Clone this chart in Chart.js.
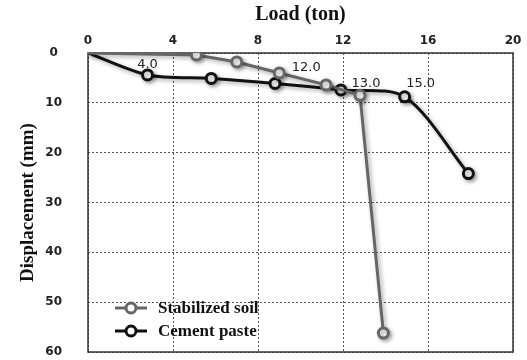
<!DOCTYPE html>
<html>
<head>
<meta charset="utf-8">
<script src="https://cdn.jsdelivr.net/npm/chart.js@4.4.1/dist/chart.umd.min.js"></script>
<style>
  html, body { margin: 0; padding: 0; background: #fff; }
  #wrap { width: 527px; height: 360px; }
</style>
</head>
<body>
<div id="wrap"><canvas id="chart"></canvas></div>
<script>
// Valeurs
const soilLoad  = [0, 5.1, 7.0, 9.0, 11.2, 12.8, 13.9];
const soilDisp  = [0, 0.4, 1.8, 4.0, 6.4, 8.5, 56.2];
const soilNotes = ['', '', '', '12.0', '', '13.0', ''];

const pasteLoad  = [0, 2.8, 5.8, 8.8, 11.9, 14.9, 17.9];
const pasteDisp  = [0, 4.4, 5.1, 6.1, 7.4, 8.8, 24.2];
const pasteNotes = ['', '4.0', '', '', '', '15.0', ''];

const loadTicks = [0, 4, 8, 12, 16, 20];
const dispTicks = [0, 10, 20, 30, 40, 50, 60];

function toPoints(xs, ys) {
    return xs.map((x, i) => ({ x: x, y: ys[i] }));
}

// Décalage des étiquettes par rapport au point (px)
const noteOffsets = {
    '4.0': [0, -10],
    '12.0': [27, -5],
    '13.0': [6, -12],
    '15.0': [16, -13]
};

// Ombre portée sur les courbes
const shadowPlugin = {
    id: 'shadow',
    beforeDatasetDraw(chart) {
        const ctx = chart.ctx;
        ctx.save();
        ctx.shadowColor = 'rgba(0,0,0,0.35)';
        ctx.shadowBlur = 4;
        ctx.shadowOffsetX = 2;
        ctx.shadowOffsetY = 2;
    },
    afterDatasetDraw(chart) {
        chart.ctx.restore();
    }
};

// Cadre, étiquettes et légende
const decorPlugin = {
    id: 'decor',
    beforeDatasetsDraw(chart) {
        const ctx = chart.ctx;
        const a = chart.chartArea;
        ctx.save();
        ctx.strokeStyle = '#333';
        ctx.lineWidth = 1.5;
        ctx.strokeRect(a.left, a.top, a.right - a.left, a.bottom - a.top);
        ctx.restore();
    },
    afterDatasetsDraw(chart) {
        const ctx = chart.ctx;
        ctx.save();
        ctx.font = '13px "DejaVu Sans"';
        ctx.fillStyle = '#222';
        ctx.textAlign = 'center';
        ctx.textBaseline = 'middle';
        chart.data.datasets.forEach((ds, di) => {
            const meta = chart.getDatasetMeta(di);
            ds.notes.forEach((txt, i) => {
                if (!txt) return;
                const p = meta.data[i];
                const off = noteOffsets[txt] || [0, -10];
                ctx.fillText(txt, p.x + off[0], p.y + off[1]);
            });
        });

        // légende
        ctx.font = 'bold 17px "Liberation Serif"';
        ctx.textAlign = 'left';
        chart.data.datasets.forEach((ds, di) => {
            const y = 308 + di * 23;
            ctx.strokeStyle = ds.borderColor;
            ctx.lineWidth = 3;
            ctx.beginPath();
            ctx.moveTo(115, y);
            ctx.lineTo(147, y);
            ctx.stroke();
            ctx.beginPath();
            ctx.arc(131, y, 5, 0, Math.PI * 2);
            ctx.fillStyle = '#fff';
            ctx.fill();
            ctx.stroke();
            ctx.fillStyle = '#111';
            ctx.fillText(ds.label, 158, y + 1);
        });
        ctx.restore();
    }
};

const ctx = document.getElementById('chart').getContext('2d');
new Chart(ctx, {
    type: 'line',
    data: {
        datasets: [
            {
                label: 'Stabilized soil',
                data: toPoints(soilLoad, soilDisp),
                notes: soilNotes,
                borderColor: '#666',
                borderWidth: 3,
                pointBackgroundColor: '#fff',
                pointBorderColor: '#666',
                pointBorderWidth: 3,
                pointRadius: soilLoad.map((v, i) => i === 0 ? 0 : 5),
                tension: 0
            },
            {
                label: 'Cement paste',
                data: toPoints(pasteLoad, pasteDisp),
                notes: pasteNotes,
                borderColor: '#111',
                borderWidth: 3,
                pointBackgroundColor: '#fff',
                pointBorderColor: '#111',
                pointBorderWidth: 3,
                pointRadius: pasteLoad.map((v, i) => i === 0 ? 0 : 5),
                tension: 0.3
            }
        ]
    },
    options: {
        responsive: true,
        maintainAspectRatio: false,
        animation: false,
        layout: { padding: { left: 0, right: 14, top: 0, bottom: 8 } },
        plugins: {
            legend: { display: false },
            tooltip: { enabled: false }
        },
        scales: {
            x: {
                type: 'linear',
                position: 'top',
                min: 0,
                max: 20,
                afterBuildTicks: s => { s.ticks = loadTicks.map(v => ({ value: v })); },
                afterFit: s => { s.height = 53; s.paddingLeft = 0; s.paddingRight = 0; },
                ticks: {
                    color: '#222',
                    font: { family: 'DejaVu Sans', size: 12, weight: 'bold' },
                    padding: 5,
                    maxRotation: 0,
                    autoSkip: false
                },
                grid: { color: '#555', lineWidth: 1, drawTicks: false },
                border: { display: false, dash: [2, 2] },
                title: {
                    display: true,
                    text: 'Load (ton)',
                    color: '#111',
                    font: { family: 'Liberation Serif', size: 20, weight: 'bold' },
                    padding: { top: 3, bottom: 0 }
                }
            },
            y: {
                type: 'linear',
                reverse: true,
                min: 0,
                max: 60,
                afterBuildTicks: s => { s.ticks = dispTicks.map(v => ({ value: v })); },
                afterFit: s => { s.width = 88; s.paddingTop = 0; s.paddingBottom = 0; },
                ticks: {
                    color: '#222',
                    font: { family: 'DejaVu Sans', size: 12, weight: 'bold' },
                    padding: 26,
                    crossAlign: 'center',
                    autoSkip: false
                },
                grid: { color: '#555', lineWidth: 1, drawTicks: false },
                border: { display: false, dash: [2, 2] },
                title: {
                    display: true,
                    text: 'Displacement (mm)',
                    color: '#111',
                    font: { family: 'Liberation Serif', size: 19, weight: 'bold' },
                    padding: { top: 17, bottom: 0 }
                }
            }
        }
    },
    plugins: [shadowPlugin, decorPlugin]
});
</script>
</body>
</html>
